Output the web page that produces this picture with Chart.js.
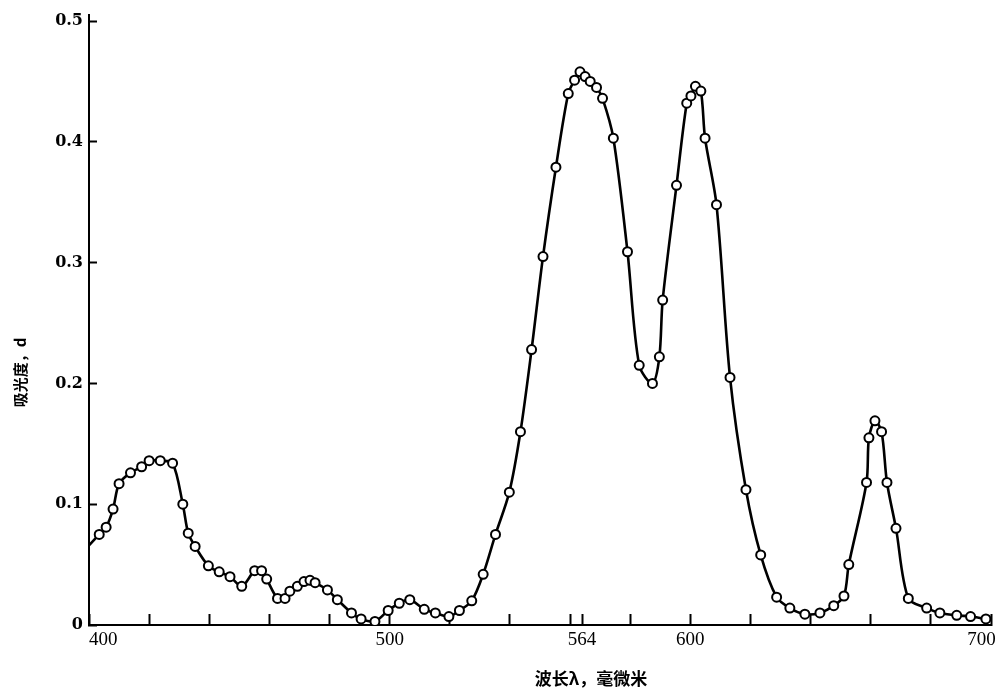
<!DOCTYPE html>
<html>
<head>
<meta charset="utf-8">
<script src="https://cdn.jsdelivr.net/npm/chart.js@4"></script>
<style>
  html, body { margin: 0; padding: 0; background: #fff; }
  #wrap { width: 999px; height: 691px; position: relative; }
</style>
</head>
<body>
<div id="wrap"><canvas id="chart"></canvas></div>
<script>
// wavelength (nm) and absorbance
const wavelengths = [
  400, 403.4, 405.7, 408.0, 410.0, 413.8, 417.5, 420.0, 423.7, 427.8,
  431.2, 433.0, 435.3, 439.7, 443.3, 446.9, 450.8, 455.1, 457.4, 459.1,
  462.7, 465.2, 466.8, 469.3, 471.5, 473.5, 475.2, 479.3, 482.6, 487.3,
  490.5, 495.1, 499.5, 503.2, 506.7, 511.5, 515.2, 519.7, 523.2, 527.3,
  531.1, 535.2, 539.8, 543.5, 547.2, 551.0, 555.3, 559.4, 561.5, 563.3,
  565.0, 566.7, 568.8, 570.8, 574.4, 579.1, 583.0, 587.4, 589.7, 590.8,
  595.4, 598.8, 600.2, 601.7, 603.5, 604.9, 608.7, 613.2, 618.5, 623.4,
  628.7, 633.1, 638.1, 643.1, 647.7, 651.1, 652.7, 658.6, 659.4, 661.4,
  663.6, 665.4, 668.4, 672.5, 678.6, 683.0, 688.6, 693.2, 698.3
];
const absorbance = [
  0.066, 0.075, 0.081, 0.096, 0.117, 0.126, 0.131, 0.136, 0.136, 0.134,
  0.100, 0.076, 0.065, 0.049, 0.044, 0.040, 0.032, 0.045, 0.045, 0.038,
  0.022, 0.022, 0.028, 0.032, 0.036, 0.037, 0.035, 0.029, 0.021, 0.010,
  0.005, 0.003, 0.012, 0.018, 0.021, 0.013, 0.010, 0.007, 0.012, 0.020,
  0.042, 0.075, 0.110, 0.160, 0.228, 0.305, 0.379, 0.440, 0.451, 0.458,
  0.454, 0.450, 0.445, 0.436, 0.403, 0.309, 0.215, 0.200, 0.222, 0.269,
  0.364, 0.432, 0.438, 0.446, 0.442, 0.403, 0.348, 0.205, 0.112, 0.058,
  0.023, 0.014, 0.009, 0.010, 0.016, 0.024, 0.050, 0.118, 0.155, 0.169,
  0.160, 0.118, 0.080, 0.022, 0.014, 0.010, 0.008, 0.007, 0.005
];

const xTicks = [400, 420, 440, 460, 480, 500, 520, 540, 560, 564, 580, 600, 620, 640, 660, 680, 700];
const xLabels = { 400: '      400', 500: '500', 564: '564', 600: '600', 700: '700    ' };
const yTicks = [0, 0.1, 0.2, 0.3, 0.4, 0.5];

// leading / trailing full-width spaces push the titles off-centre like the original
const xTitle = '\u3000\u3000\u3000\u3000\u3000\u3000波长λ，毫微米';
const yTitle = '吸光度，d\u3000\u3000\u3000\u3000\u3000\u3000\u3000';

const points = wavelengths.map((w, i) => ({ x: w, y: absorbance[i] }));

new Chart(document.getElementById('chart'), {
  type: 'line',
  data: {
    datasets: [{
      data: points,
      borderColor: '#000',
      borderWidth: 2.6,
      tension: 0.3,
      pointRadius: points.map((p, i) => i === 0 ? 0 : 4.5),
      pointBorderWidth: 2,
      pointBorderColor: '#000',
      pointBackgroundColor: '#fff',
      fill: false
    }]
  },
  options: {
    responsive: true,
    maintainAspectRatio: false,
    animation: false,
    layout: { padding: { left: 4, right: 8, top: 15, bottom: 0 } },
    plugins: {
      legend: { display: false },
      tooltip: { enabled: false }
    },
    scales: {
      x: {
        type: 'linear',
        min: 400,
        max: 700,
        afterBuildTicks: (scale) => { scale.ticks = xTicks.map(v => ({ value: v })); },
        afterFit: (scale) => { scale.height = 66; scale.paddingLeft = 0; scale.paddingRight = 0; },
        border: { color: '#000', width: 2 },
        grid: { drawOnChartArea: false, drawTicks: true, tickLength: -11, tickWidth: 2, tickColor: '#000' },
        ticks: {
          autoSkip: false,
          maxRotation: 0,
          padding: 15,
          color: '#000',
          font: { family: 'Liberation Serif', size: 19 },
          callback: (v) => xLabels[v] || ''
        },
        title: {
          display: true,
          text: xTitle,
          color: '#000',
          font: { family: 'Noto Sans CJK SC', size: 17, weight: 'bold' },
          padding: { top: 0, bottom: 2 }
        }
      },
      y: {
        min: 0,
        max: 0.505,
        afterBuildTicks: (scale) => { scale.ticks = yTicks.map(v => ({ value: v })); },
        afterFit: (scale) => { scale.width = 85; scale.paddingTop = 0; scale.paddingBottom = 0; },
        border: { color: '#000', width: 2 },
        grid: { drawOnChartArea: false, drawTicks: true, tickLength: -8, tickWidth: 2, tickColor: '#000' },
        ticks: {
          padding: 14,
          color: '#000',
          font: { family: 'DejaVu Serif', size: 16, weight: 'bold' },
          callback: (v) => v === 0 ? '0' : v.toFixed(1)
        },
        title: {
          display: true,
          text: yTitle,
          color: '#000',
          font: { family: 'Noto Sans CJK SC', size: 15, weight: 'bold' },
          padding: { top: 7, bottom: 0 }
        }
      }
    }
  }
});
</script>
</body>
</html>
